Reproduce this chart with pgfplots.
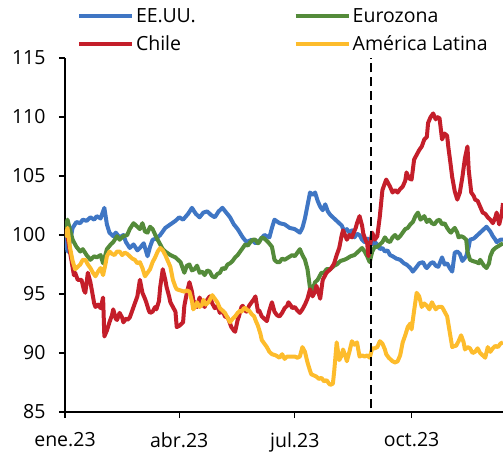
\documentclass[border=0pt]{standalone}
\usepackage{fontspec}
\setmainfont{Open Sans}
\usepackage{pgfplots}
\pgfplotsset{compat=1.18}
\usepackage{pgfplotstable}
\definecolor{cusa}{HTML}{3F76C4}
\definecolor{ceur}{HTML}{548B3A}
\definecolor{cchl}{HTML}{C41E2A}
\definecolor{clat}{HTML}{FDBC2C}
\newcommand{\fs}{\fontsize{19.5bp}{23bp}\selectfont}

\pgfplotstableread{
x y
0 100.0
2 98.6
4 99.5
6 100.6
9 101.1
12 101.0
14 101.3
17 101.2
20 101.5
23 101.3
25 101.6
28 101.4
31 102.3
33 100.9
35 100.2
38 99.9
40 100.2
43 99.8
46 100.0
48 99.4
51 98.9
54 99.2
57 98.7
59 98.9
62 99.3
65 98.2
67 99.0
69 99.6
72 99.7
75 100.0
79 100.6
83 100.9
87 101.2
90 101.5
93 101.3
97 101.8
100 102.3
103 101.8
106 101.5
109 101.9
112 102.0
115 101.7
118 101.5
121 102.0
124 102.3
127 101.9
130 101.5
133 100.9
136 100.5
140 99.8
143 99.4
147 99.6
150 99.3
153 99.5
157 100.0
161 99.8
163 100.6
165 101.3
169 101.0
173 100.9
177 100.6
181 100.5
185 100.2
187 100.6
189 101.4
191 102.5
193 103.6
195 103.4
197 103.6
199 102.9
201 102.4
203 102.1
205 102.6
207 102.0
209 101.7
211 101.5
213 101.3
216 101.0
218 100.8
220 100.3
222 100.5
224 100.2
226 100.4
228 99.8
230 100.1
232 100.0
234 99.6
236 99.4
238 99.7
240 99.6
242 99.2
244 99.4
246 99.2
248 98.8
250 98.9
252 98.6
254 98.7
256 98.3
258 98.2
261 98.0
264 97.9
267 97.6
269 97.5
272 97.2
274 96.9
277 97.3
279 97.6
282 97.7
284 97.3
285 97.2
288 97.6
290 97.7
292 97.4
294 97.3
297 98.1
299 97.5
301 97.6
303 97.2
305 96.9
307 98.5
309 98.6
311 98.4
313 97.8
316 98.2
318 99.0
319 99.6
322 99.7
324 99.9
327 100.2
330 100.5
332 100.7
335 100.3
337 99.9
339 99.6
340 99.4
343 99.6
345 99.6
}\usdata

\pgfplotstableread{
x y
0 100.6
2 101.3
4 100.4
6 99.6
9 99.0
12 98.6
14 98.8
17 98.3
20 97.9
23 98.2
25 98.1
28 98.3
30 97.6
33 98.8
36 99.2
38 99.4
41 99.9
43 99.6
46 99.9
49 100.0
51 100.5
54 101.0
57 100.7
59 100.5
61 101.0
63 100.3
65 100.2
67 100.7
69 100.5
72 99.8
75 99.2
77 98.8
79 98.6
83 98.3
87 98.1
91 97.7
94 96.8
96 97.4
98 97.5
100 97.0
102 97.1
104 97.4
106 96.8
108 96.9
110 96.6
112 97.0
114 96.9
116 96.5
118 96.4
120 96.7
122 96.8
124 97.2
126 97.1
128 97.5
130 97.6
132 97.8
134 98.1
136 98.3
138 98.6
140 98.9
142 99.2
144 99.1
146 99.4
148 99.6
150 99.6
152 99.3
153 99.4
155 99.8
157 99.7
160 99.4
163 99.0
165 97.9
167 97.7
169 97.7
171 98.0
173 97.9
176 98.1
179 98.3
181 98.2
183 98.5
185 98.8
187 98.3
189 97.9
191 97.1
193 95.5
195 95.4
197 96.0
199 96.2
202 96.8
204 96.8
206 97.1
209 97.1
212 97.4
214 97.5
217 97.8
220 97.9
222 98.0
225 98.2
228 98.3
230 98.5
232 98.7
234 98.9
236 98.6
238 98.2
240 97.7
242 98.6
244 99.0
246 99.0
248 99.2
250 99.4
252 99.8
254 99.5
256 99.4
258 99.8
260 100.0
262 99.7
264 99.9
266 100.2
268 100.5
270 100.6
272 100.9
274 101.1
276 101.6
278 101.9
280 101.3
282 101.5
283 101.6
285 101.1
287 101.3
289 101.0
291 100.9
293 101.2
295 101.3
297 100.9
299 101.0
301 100.6
303 100.3
304 100.2
306 100.5
307 100.6
309 100.2
310 99.8
312 99.9
314 99.8
316 99.6
317 98.6
319 97.9
321 97.8
324 97.7
326 97.6
327 97.9
330 97.4
332 97.2
334 97.6
335 98.2
337 98.7
339 98.9
342 99.1
345 99.3
}\eurdata

\pgfplotstableread{
x y
0 100.4
2 99.9
4 98.5
5 97.9
7 96.6
8 96.8
10 96.2
13 96.2
15 95.3
16 95.1
18 96.8
20 96.0
21 95.4
23 94.2
24 93.9
26 94.1
28 93.8
30 94.7
31 91.4
33 91.9
35 92.6
37 93.2
38 93.7
40 92.9
41 92.8
43 93.4
45 93.0
46 92.6
48 92.9
49 92.8
51 93.0
53 93.6
54 93.9
56 94.5
57 94.8
59 96.2
61 95.1
63 94.6
64 94.3
66 93.6
67 93.4
69 93.5
71 93.9
72 93.7
74 94.4
75 95.6
77 97.1
79 96.2
80 95.6
82 94.8
83 94.3
85 93.9
87 93.5
88 92.2
90 92.3
93 92.6
94 94.0
96 95.1
98 96.0
100 95.2
101 94.5
103 94.0
104 93.9
106 94.7
108 94.2
110 93.9
112 94.5
114 94.8
116 94.2
118 93.8
120 94.0
122 93.4
124 93.6
126 93.1
128 93.0
129 92.8
131 92.2
133 91.9
134 91.8
136 92.8
137 93.1
139 93.9
140 94.0
142 93.6
143 93.5
145 94.0
147 94.3
149 94.6
150 94.8
152 93.5
153 93.6
155 93.1
157 92.9
159 92.7
161 93.6
163 94.3
164 93.9
165 93.5
167 93.2
169 93.1
171 93.4
173 93.8
175 94.0
176 94.3
178 94.0
179 93.8
181 93.9
183 93.6
185 93.4
187 93.7
189 94.1
191 94.6
193 95.4
195 94.8
197 95.2
198 95.7
200 95.0
201 94.6
203 96.2
205 96.6
206 96.8
208 97.0
209 97.1
211 97.4
212 97.6
214 98.3
216 98.9
218 100.0
219 100.4
221 99.9
222 99.6
224 100.0
226 99.8
227 100.1
229 100.6
230 101.0
232 101.6
234 100.8
235 100.1
237 99.5
238 99.3
239 98.2
241 99.6
242 100.2
244 99.6
246 99.9
248 101.6
250 103.8
252 104.4
253 104.7
255 104.3
256 104.1
258 103.6
260 103.8
262 103.6
264 103.9
266 104.1
268 104.6
269 105.3
271 104.8
273 104.7
275 106.4
277 106.8
279 107.2
281 107.5
283 108.1
285 108.3
286 109.5
288 110.0
290 110.3
292 109.8
293 110.0
295 109.9
296 109.0
297 108.1
299 108.6
301 108.4
302 107.4
303 106.6
305 104.9
307 103.7
309 103.0
311 103.6
313 104.9
315 106.5
317 107.5
318 105.5
320 103.6
322 103.3
323 103.0
325 102.9
327 102.4
329 101.9
331 101.8
333 101.5
335 101.3
337 101.0
339 101.5
340 101.9
342 100.9
344 101.8
345 102.7
}\chldata

\pgfplotstableread{
x y
0 99.8
2 100.6
4 98.9
6 97.8
8 97.1
10 97.3
12 97.5
14 97.9
16 97.9
18 97.5
20 97.2
22 96.8
24 96.5
26 96.9
28 97.2
30 96.6
32 97.6
33 98.2
35 98.6
37 98.4
39 98.3
41 98.6
43 98.6
45 98.3
47 98.5
49 98.4
51 98.2
53 98.0
55 97.9
57 97.6
59 97.7
61 97.2
63 96.5
65 96.8
67 97.1
69 97.7
71 98.1
73 98.6
75 98.9
77 98.7
79 98.3
81 97.8
83 97.3
85 96.2
87 95.6
88 95.4
91 95.3
94 95.2
96 95.3
98 95.2
100 94.4
101 93.7
103 94.0
104 94.3
106 93.9
108 94.1
109 94.5
111 94.1
113 94.3
114 94.5
116 94.9
118 94.6
120 94.3
122 93.8
124 93.6
126 93.4
128 93.0
130 92.6
132 92.9
134 93.1
136 93.4
138 93.6
139 93.5
141 93.8
142 93.8
144 93.6
145 93.6
147 93.3
149 93.1
150 92.8
152 92.3
154 91.6
155 91.1
157 90.8
159 90.5
161 90.1
163 89.9
166 89.8
169 89.6
171 89.9
173 89.5
175 89.7
178 89.7
181 89.7
183 89.6
185 89.7
187 90.5
189 90.1
191 89.2
193 88.5
194 88.2
196 88.1
198 88.0
200 87.8
202 87.9
204 87.6
206 87.7
208 87.4
209 87.3
211 87.4
212 88.4
214 90.9
216 89.4
218 89.8
219 90.3
221 89.7
222 89.3
224 90.1
226 91.0
228 90.7
230 90.9
232 89.7
234 89.8
236 89.7
238 89.8
240 89.6
242 90.4
244 90.4
246 90.5
248 91.0
250 90.8
252 90.3
253 89.9
255 89.6
258 89.3
260 89.2
262 89.3
264 89.8
266 90.9
268 91.5
270 92.2
272 92.5
273 92.0
275 93.6
277 95.1
279 94.8
281 93.9
283 94.2
285 94.0
287 93.7
289 94.3
290 94.1
292 93.7
294 93.9
297 93.9
299 93.5
301 93.1
303 91.8
305 90.5
307 90.6
308 90.6
310 91.0
312 91.5
314 90.9
315 90.3
317 90.5
319 90.4
321 90.0
323 90.1
325 90.4
327 90.0
329 89.8
331 89.6
333 90.5
335 90.1
337 90.4
339 90.6
341 90.5
343 90.8
345 90.9
}\latdata

\begin{document}
\begin{tikzpicture}
\begin{axis}[
  name=ax,
  scale only axis,
  width=438bp, height=354bp,
  xmin=0, xmax=345,
  ymin=85, ymax=115,
  axis x line=bottom, axis y line=left,
  axis line style={-, line width=1.3bp, black},
  xtick={0,90,181,273},
  xticklabels={ene.23,abr.23,jul.23,oct.23},
  ytick={85,90,...,115},
  tick align=outside,
  major tick length=6bp,
  tick style={line width=1.3bp, black},
  tick label style={font=\fs},
  yticklabel style={xshift=-10bp},
  xticklabel style={yshift=-11bp},
  /pgf/number format/assume math mode=true,
  legend columns=2,
  legend image code/.code={\draw[#1, line width=4bp] (0bp,0bp) -- (53bp,0bp);},
  legend style={draw=none, fill=none, font=\fs, inner sep=0pt,
    at={(axis description cs:0.027,1.144)}, anchor=north west,
    nodes={inner xsep=2bp, inner ysep=1bp},
    cells={anchor=west}, row sep=10bp,
    /tikz/every even column/.append style={column sep=96bp}},
  every axis plot/.append style={line width=4bp, line join=round},
]
\addplot[cusa] table {\usdata};
\addlegendentry{EE.UU.}
\addplot[ceur] table {\eurdata};
\addlegendentry{Eurozona}
\addplot[cchl] table {\chldata};
\addlegendentry{Chile}
\addplot[clat] table {\latdata};
\addlegendentry{América Latina}
\addplot[black, line width=2.5bp, dash pattern=on 9bp off 5bp, forget plot] coordinates {(241,85.3) (241,115)};
\end{axis}
\pgfresetboundingbox
\path ([xshift=-65bp,yshift=-44bp]ax.south west) rectangle ([yshift=58bp]ax.north east);
\end{tikzpicture}
\end{document}
